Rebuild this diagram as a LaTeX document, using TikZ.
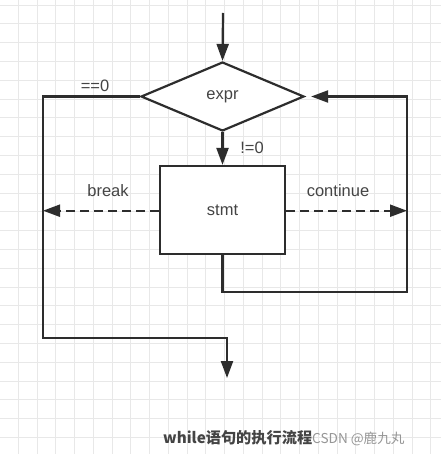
\documentclass[tikz,border=0pt]{standalone}
\usepackage{fontspec}
\setmainfont{Liberation Sans}
\newfontfamily\cjkfont{Noto Sans CJK SC}
\usetikzlibrary{shapes.geometric,arrows.meta}
\definecolor{gridc}{RGB}{232,232,232}
\definecolor{linec}{RGB}{45,45,45}
\definecolor{textc}{RGB}{68,68,68}
\definecolor{wmc}{RGB}{150,150,150}
\tikzset{
  flow/.style={draw=linec,line width=2.2pt},
  arr/.style={flow,-{Triangle[length=17pt,width=12pt]}},
  dasharr/.style={arr,dash pattern=on 9pt off 5pt},
  lbl/.style={text=textc,font=\fontsize{16.5}{19}\selectfont,inner sep=0pt},
  decision/.style={flow,diamond,fill=white,minimum width=163pt,minimum height=69pt,inner sep=0pt},
  process/.style={flow,rectangle,fill=white,minimum width=125pt,minimum height=88pt,inner sep=0pt}
}
\begin{document}
\begin{tikzpicture}[x=1pt,y=-1pt]
\useasboundingbox (0,0) rectangle (441,454);
\fill[white] (0,0) rectangle (441,454);
% grid
\foreach \i in {0,...,23} {\draw[gridc,line width=0.9pt] ({18.3+18.75*\i},0) -- ({18.3+18.75*\i},454);}
\foreach \j in {0,...,24} {\draw[gridc,line width=0.9pt] (0,{5+18.8*\j}) -- (441,{5+18.8*\j});}
% nodes
\node[decision] (expr) at (222.5,96.5) {};
\node[lbl] (exprt) at (222.5,97) {expr};
\node[process] (stmt) at (222.5,210) {};
\node[lbl] (stmtt) at (222.5,210) {stmt};
\coordinate (top) at (223,13);
\coordinate (L) at (43,337.7);
\coordinate (end) at (227,378);
\coordinate (R) at (407,292);
\coordinate (bk) at (43,210.7);
\coordinate (ct) at (407,210.7);
% connectors
\draw[arr] (top) -- (expr.north);
\draw[arr] (expr.south) -- (stmt.north);
\draw[arr] (expr.west) -| (L) -| (end);
\draw[arr,shorten >=6pt] (stmt.south) |- (R) |- (expr.east);
\draw[dasharr] (stmt.west |- bk) -- (bk);
\draw[dasharr] (stmt.east |- ct) -- (ct);
% labels
\node[lbl] (eq0) at (95,86) {==0};
\node[lbl] (ne0) at (252,148) {!=0};
\node[lbl] (brk) at (108,191) {break};
\node[lbl] (cnt) at (338,191) {continue};
\node[inner sep=0pt,anchor=base west] (cap) at (163,443)
  {\textcolor{textc}{\cjkfont\fontsize{15.2}{18}\selectfont\bfseries while语句的执行流程}\textcolor{wmc}{\cjkfont\fontsize{13.6}{16}\selectfont CSDN @鹿九丸}};
\end{tikzpicture}
\end{document}
